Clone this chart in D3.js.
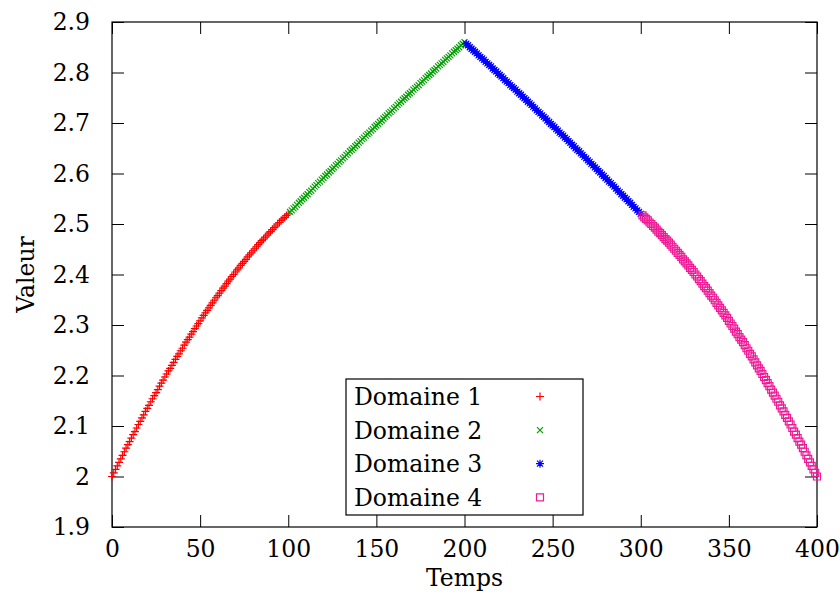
<!DOCTYPE html>
<html>
<head>
<meta charset="utf-8">
<script src="https://cdn.jsdelivr.net/npm/d3@7"></script>
<style>
  html, body { margin: 0; padding: 0; background: #fff; }
  svg { display: block; }
  svg text { font-family: "DejaVu Serif", "Liberation Serif", serif; fill: #000; }
</style>
</head>
<body>
<svg id="chart" width="840" height="594"></svg>
<script>
// Values, one point per time unit
const LABELS = ["Domaine 1", "Domaine 2", "Domaine 3", "Domaine 4"];
const DOMAIN_START = [0, 101, 201, 301];

const domaine1 = [
  2.000, 2.007, 2.014, 2.021, 2.028, 2.035, 2.042, 2.049, 2.056, 2.063,
  2.069, 2.076, 2.083, 2.089, 2.096, 2.103, 2.109, 2.116, 2.122, 2.129,
  2.135, 2.141, 2.148, 2.154, 2.160, 2.166, 2.172, 2.179, 2.185, 2.191,
  2.197, 2.203, 2.209, 2.214, 2.220, 2.226, 2.232, 2.238, 2.243, 2.249,
  2.254, 2.260, 2.266, 2.271, 2.276, 2.282, 2.287, 2.293, 2.298, 2.303,
  2.308, 2.314, 2.319, 2.324, 2.329, 2.334, 2.339, 2.344, 2.349, 2.354,
  2.358, 2.363, 2.368, 2.373, 2.377, 2.382, 2.387, 2.391, 2.396, 2.400,
  2.405, 2.409, 2.413, 2.418, 2.422, 2.426, 2.430, 2.435, 2.439, 2.443,
  2.447, 2.451, 2.455, 2.459, 2.463, 2.467, 2.470, 2.474, 2.478, 2.482,
  2.485, 2.489, 2.493, 2.496, 2.500, 2.503, 2.507, 2.510, 2.513, 2.517, 2.520
];

const domaine2 = [
  2.524, 2.527, 2.531, 2.534, 2.538, 2.542, 2.545, 2.549, 2.552, 2.556,
  2.559, 2.563, 2.566, 2.570, 2.574, 2.577, 2.581, 2.584, 2.588, 2.591,
  2.595, 2.598, 2.602, 2.605, 2.609, 2.612, 2.616, 2.619, 2.623, 2.626,
  2.630, 2.633, 2.637, 2.640, 2.644, 2.647, 2.650, 2.654, 2.657, 2.661,
  2.664, 2.668, 2.671, 2.675, 2.678, 2.681, 2.685, 2.688, 2.692, 2.695,
  2.698, 2.702, 2.705, 2.709, 2.712, 2.715, 2.719, 2.722, 2.725, 2.729,
  2.732, 2.736, 2.739, 2.742, 2.746, 2.749, 2.752, 2.756, 2.759, 2.762,
  2.766, 2.769, 2.772, 2.775, 2.779, 2.782, 2.785, 2.789, 2.792, 2.795,
  2.798, 2.802, 2.805, 2.808, 2.812, 2.815, 2.818, 2.821, 2.825, 2.828,
  2.831, 2.834, 2.838, 2.841, 2.844, 2.847, 2.850, 2.854, 2.857, 2.860
];

const domaine3 = [
  2.857, 2.854, 2.850, 2.847, 2.844, 2.841, 2.838, 2.834, 2.831, 2.828,
  2.825, 2.821, 2.818, 2.815, 2.812, 2.808, 2.805, 2.802, 2.798, 2.795,
  2.792, 2.789, 2.785, 2.782, 2.779, 2.775, 2.772, 2.769, 2.766, 2.762,
  2.759, 2.756, 2.752, 2.749, 2.746, 2.742, 2.739, 2.736, 2.732, 2.729,
  2.725, 2.722, 2.719, 2.715, 2.712, 2.709, 2.705, 2.702, 2.698, 2.695,
  2.692, 2.688, 2.685, 2.681, 2.678, 2.675, 2.671, 2.668, 2.664, 2.661,
  2.657, 2.654, 2.650, 2.647, 2.644, 2.640, 2.637, 2.633, 2.630, 2.626,
  2.623, 2.619, 2.616, 2.612, 2.609, 2.605, 2.602, 2.598, 2.595, 2.591,
  2.588, 2.584, 2.581, 2.577, 2.574, 2.570, 2.566, 2.563, 2.559, 2.556,
  2.552, 2.549, 2.545, 2.542, 2.538, 2.534, 2.531, 2.527, 2.524, 2.520
];

const domaine4 = [
  2.517, 2.513, 2.510, 2.507, 2.503, 2.500, 2.496, 2.493, 2.489, 2.485,
  2.482, 2.478, 2.474, 2.470, 2.467, 2.463, 2.459, 2.455, 2.451, 2.447,
  2.443, 2.439, 2.435, 2.430, 2.426, 2.422, 2.418, 2.413, 2.409, 2.405,
  2.400, 2.396, 2.391, 2.387, 2.382, 2.377, 2.373, 2.368, 2.363, 2.358,
  2.354, 2.349, 2.344, 2.339, 2.334, 2.329, 2.324, 2.319, 2.314, 2.308,
  2.303, 2.298, 2.293, 2.287, 2.282, 2.276, 2.271, 2.266, 2.260, 2.254,
  2.249, 2.243, 2.238, 2.232, 2.226, 2.220, 2.214, 2.209, 2.203, 2.197,
  2.191, 2.185, 2.179, 2.172, 2.166, 2.160, 2.154, 2.148, 2.141, 2.135,
  2.129, 2.122, 2.116, 2.109, 2.103, 2.096, 2.089, 2.083, 2.076, 2.069,
  2.063, 2.056, 2.049, 2.042, 2.035, 2.028, 2.021, 2.014, 2.007, 2.000
];

const X_TICKS = [0, 50, 100, 150, 200, 250, 300, 350, 400];
const Y_TICKS = [1.9, 2, 2.1, 2.2, 2.3, 2.4, 2.5, 2.6, 2.7, 2.8, 2.9];

const COLORS = ["#ff0000", "#00a000", "#0000ff", "#ee1a96"];
// gnuplot-ish point types: plus, cross, star, open square
const MARKERS = [
  "M-4,0H4M0,-4V4",
  "M-3,-3L3,3M-3,3L3,-3",
  "M-4,0H4M0,-4V4M-3,-3L3,3M-3,3L3,-3",
  "M-3.5,-3.5H3.5V3.5H-3.5Z"
];

function main(){
  const series = [domaine1, domaine2, domaine3, domaine4];
  const svg = d3.select("#chart");
  const fs = 23.5;

  const x = d3.scaleLinear().domain([0, 400]).range([112, 817]);
  const y = d3.scaleLinear().domain([1.9, 2.9]).range([527, 22]);

  // ticks, inward, mirrored on all sides
  const styleAxis = g => {
    g.select(".domain").remove();
    g.attr("font-family", null).attr("font-size", fs);
    g.selectAll("line").attr("stroke", "#000").attr("stroke-width", 1);
  };
  svg.append("g").attr("transform", `translate(0,${y(1.9)})`)
    .call(d3.axisBottom(x).tickValues(X_TICKS).tickSize(-12).tickPadding(13).tickFormat(d3.format("d")))
    .call(styleAxis);
  svg.append("g").attr("transform", `translate(0,${y(2.9)})`)
    .call(d3.axisTop(x).tickValues(X_TICKS).tickSize(-12).tickFormat(""))
    .call(styleAxis);
  svg.append("g").attr("transform", `translate(${x(0)},0)`)
    .call(d3.axisLeft(y).tickValues(Y_TICKS).tickSize(-12).tickPadding(22).tickFormat(d => d3.format("")(+d.toFixed(1))))
    .call(styleAxis);
  svg.append("g").attr("transform", `translate(${x(400)},0)`)
    .call(d3.axisRight(y).tickValues(Y_TICKS).tickSize(-12).tickFormat(""))
    .call(styleAxis);

  // frame
  svg.append("rect")
    .attr("x", x(0)).attr("y", y(2.9))
    .attr("width", x(400) - x(0)).attr("height", y(1.9) - y(2.9))
    .attr("fill", "none").attr("stroke", "#000").attr("stroke-width", 1.2);

  // axis titles
  svg.append("text").attr("x", (x(0) + x(400)) / 2).attr("y", 586)
    .attr("text-anchor", "middle").attr("font-size", fs).text("Temps");
  svg.append("text").attr("transform", `translate(34,${(y(1.9) + y(2.9)) / 2}) rotate(-90)`)
    .attr("text-anchor", "middle").attr("font-size", fs).text("Valeur");

  // points
  series.forEach((vals, k) => {
    svg.append("g").selectAll("path")
      .data(vals.map((v, i) => ({t: DOMAIN_START[k] + i, v})))
      .join("path")
      .attr("transform", d => `translate(${x(d.t)},${y(d.v)})`)
      .attr("d", MARKERS[k])
      .attr("fill", "none")
      .attr("stroke", COLORS[k])
      .attr("stroke-width", 1.2);
  });

  // legend
  const L = svg.append("g");
  L.append("rect").attr("x", 346).attr("y", 379).attr("width", 237).attr("height", 136)
    .attr("fill", "#fff").attr("stroke", "#000").attr("stroke-width", 1.2);
  LABELS.forEach((lab, k) => {
    const cy = 396.5 + k * 33.6;
    L.append("text").attr("x", 354).attr("y", cy + 8.5).attr("font-size", fs).text(lab);
    L.append("path").attr("transform", `translate(540,${cy})`)
      .attr("d", MARKERS[k]).attr("fill", "none")
      .attr("stroke", COLORS[k]).attr("stroke-width", 1.2);
  });
}

window.addEventListener("DOMContentLoaded", main);
</script>
</body>
</html>
